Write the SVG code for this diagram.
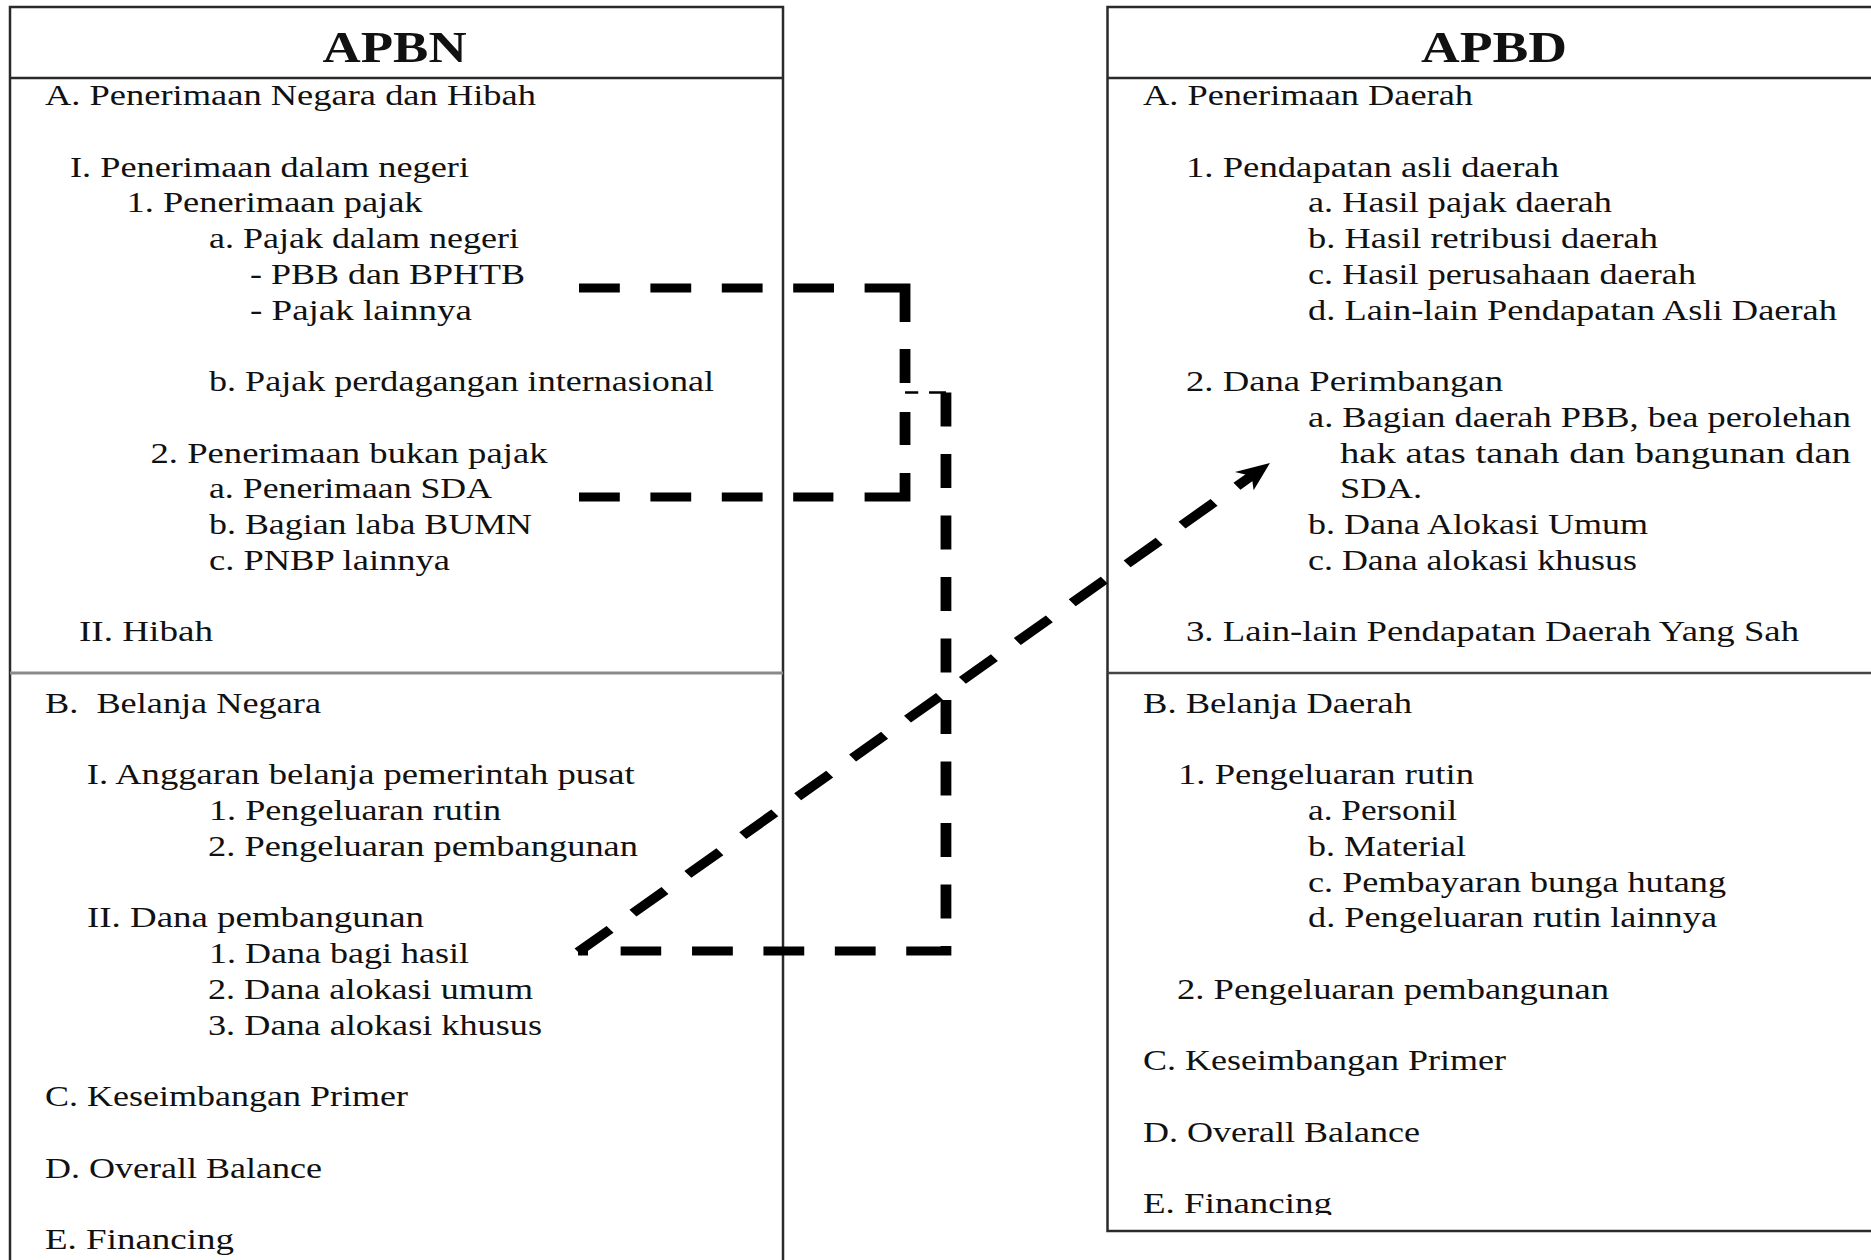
<svg xmlns="http://www.w3.org/2000/svg" width="1871" height="1260" viewBox="0 0 1871 1260">
<style>
.box{fill:#fff;stroke:#2a2a2a;stroke-width:2.5}
.hl{stroke:#2a2a2a;stroke-width:2.5}
.t{font-family:"Liberation Serif","Times New Roman",serif;font-size:29px;fill:#111;white-space:pre}
.h{font-family:"Liberation Serif","Times New Roman",serif;font-size:44px;font-weight:bold;fill:#111;text-anchor:middle}
.c{fill:none;stroke:#000;stroke-width:9}
</style>
<defs>
<clipPath id="clipR"><rect x="1100" y="0" width="780" height="1215"/></clipPath>
</defs>
<rect width="1871" height="1260" fill="#fff"/>
<g id="apbn">
<rect class="box" x="10" y="7" width="773" height="1270"/>
<line class="hl" x1="10" y1="78" x2="783" y2="78"/>
<line x1="10" y1="673" x2="783" y2="673" stroke="#8a8a8a" stroke-width="3"/>
<text class="h" x="394.6" y="62" textLength="144" lengthAdjust="spacingAndGlyphs">APBN</text>
<text class="t" x="45" y="105" textLength="491" lengthAdjust="spacingAndGlyphs">A. Penerimaan Negara dan Hibah</text>
<text class="t" x="70" y="176.5" textLength="399" lengthAdjust="spacingAndGlyphs">I. Penerimaan dalam negeri</text>
<text class="t" x="126.5" y="212.25" textLength="296" lengthAdjust="spacingAndGlyphs">1. Penerimaan pajak</text>
<text class="t" x="209" y="248" textLength="310" lengthAdjust="spacingAndGlyphs">a. Pajak dalam negeri</text>
<text class="t" x="250" y="283.75" textLength="275" lengthAdjust="spacingAndGlyphs">- PBB dan BPHTB</text>
<text class="t" x="250" y="319.5" textLength="222" lengthAdjust="spacingAndGlyphs">- Pajak lainnya</text>
<text class="t" x="209" y="391" textLength="505" lengthAdjust="spacingAndGlyphs">b. Pajak perdagangan internasional</text>
<text class="t" x="150.5" y="462.5" textLength="397" lengthAdjust="spacingAndGlyphs">2. Penerimaan bukan pajak</text>
<text class="t" x="209" y="498.25" textLength="283" lengthAdjust="spacingAndGlyphs">a. Penerimaan SDA</text>
<text class="t" x="209" y="534" textLength="323" lengthAdjust="spacingAndGlyphs">b. Bagian laba BUMN</text>
<text class="t" x="209" y="569.75" textLength="241" lengthAdjust="spacingAndGlyphs">c. PNBP lainnya</text>
<text class="t" x="79" y="641.25" textLength="134" lengthAdjust="spacingAndGlyphs">II. Hibah</text>
<text class="t" x="45" y="712.75" textLength="276" lengthAdjust="spacingAndGlyphs">B.  Belanja Negara</text>
<text class="t" x="86.7" y="784.25" textLength="548" lengthAdjust="spacingAndGlyphs">I. Anggaran belanja pemerintah pusat</text>
<text class="t" x="209" y="820" textLength="292" lengthAdjust="spacingAndGlyphs">1. Pengeluaran rutin</text>
<text class="t" x="208" y="855.75" textLength="430" lengthAdjust="spacingAndGlyphs">2. Pengeluaran pembangunan</text>
<text class="t" x="87" y="927.25" textLength="337" lengthAdjust="spacingAndGlyphs">II. Dana pembangunan</text>
<text class="t" x="209" y="963" textLength="260" lengthAdjust="spacingAndGlyphs">1. Dana bagi hasil</text>
<text class="t" x="208" y="998.75" textLength="325" lengthAdjust="spacingAndGlyphs">2. Dana alokasi umum</text>
<text class="t" x="208" y="1034.5" textLength="334" lengthAdjust="spacingAndGlyphs">3. Dana alokasi khusus</text>
<text class="t" x="45" y="1106" textLength="363" lengthAdjust="spacingAndGlyphs">C. Keseimbangan Primer</text>
<text class="t" x="45" y="1177.5" textLength="277" lengthAdjust="spacingAndGlyphs">D. Overall Balance</text>
<text class="t" x="45" y="1249" textLength="189" lengthAdjust="spacingAndGlyphs">E. Financing</text>
</g>
<g id="apbd">
<rect class="box" x="1107.5" y="7" width="780" height="1224"/>
<line class="hl" x1="1107.5" y1="78" x2="1871" y2="78"/>
<line x1="1107.5" y1="673" x2="1871" y2="673" stroke="#444" stroke-width="2.5"/>
<text class="h" x="1494" y="62" textLength="146" lengthAdjust="spacingAndGlyphs">APBD</text>
<g clip-path="url(#clipR)">
<text class="t" x="1143" y="105" textLength="330" lengthAdjust="spacingAndGlyphs">A. Penerimaan Daerah</text>
<text class="t" x="1186" y="176.5" textLength="373" lengthAdjust="spacingAndGlyphs">1. Pendapatan asli daerah</text>
<text class="t" x="1308" y="212.25" textLength="304" lengthAdjust="spacingAndGlyphs">a. Hasil pajak daerah</text>
<text class="t" x="1308" y="248" textLength="350" lengthAdjust="spacingAndGlyphs">b. Hasil retribusi daerah</text>
<text class="t" x="1308" y="283.75" textLength="388" lengthAdjust="spacingAndGlyphs">c. Hasil perusahaan daerah</text>
<text class="t" x="1308" y="319.5" textLength="529" lengthAdjust="spacingAndGlyphs">d. Lain-lain Pendapatan Asli Daerah</text>
<text class="t" x="1186" y="391" textLength="317" lengthAdjust="spacingAndGlyphs">2. Dana Perimbangan</text>
<text class="t" x="1308" y="426.75" textLength="543" lengthAdjust="spacingAndGlyphs">a. Bagian daerah PBB, bea perolehan</text>
<text class="t" x="1340" y="462.5" textLength="511" lengthAdjust="spacingAndGlyphs">hak atas tanah dan bangunan dan</text>
<text class="t" x="1340" y="498.25" textLength="82" lengthAdjust="spacingAndGlyphs">SDA.</text>
<text class="t" x="1308" y="534" textLength="340" lengthAdjust="spacingAndGlyphs">b. Dana Alokasi Umum</text>
<text class="t" x="1308" y="569.75" textLength="329" lengthAdjust="spacingAndGlyphs">c. Dana alokasi khusus</text>
<text class="t" x="1186" y="641.25" textLength="613" lengthAdjust="spacingAndGlyphs">3. Lain-lain Pendapatan Daerah Yang Sah</text>
<text class="t" x="1143" y="712.75" textLength="269" lengthAdjust="spacingAndGlyphs">B. Belanja Daerah</text>
<text class="t" x="1178" y="784.25" textLength="296" lengthAdjust="spacingAndGlyphs">1. Pengeluaran rutin</text>
<text class="t" x="1308" y="820" textLength="149" lengthAdjust="spacingAndGlyphs">a. Personil</text>
<text class="t" x="1308" y="855.75" textLength="158" lengthAdjust="spacingAndGlyphs">b. Material</text>
<text class="t" x="1308" y="891.5" textLength="418" lengthAdjust="spacingAndGlyphs">c. Pembayaran bunga hutang</text>
<text class="t" x="1308" y="927.25" textLength="409" lengthAdjust="spacingAndGlyphs">d. Pengeluaran rutin lainnya</text>
<text class="t" x="1177" y="998.75" textLength="432" lengthAdjust="spacingAndGlyphs">2. Pengeluaran pembangunan</text>
<text class="t" x="1143" y="1070.25" textLength="363" lengthAdjust="spacingAndGlyphs">C. Keseimbangan Primer</text>
<text class="t" x="1143" y="1141.75" textLength="277" lengthAdjust="spacingAndGlyphs">D. Overall Balance</text>
<text class="t" x="1143" y="1213.25" textLength="189" lengthAdjust="spacingAndGlyphs">E. Financing</text>
</g>
</g>
<g id="connectors" transform="scale(1.2 1)">
<path class="c" d="M482.5,288 H754.2 V497 H482.5" stroke-dasharray="34 25.5 34 25.5 34 25.5 34 25.5 67.7 27 34 29 33 28 57.7 26 33.5 25.5 34 25.5 34 25.5 34 100"/>
<line x1="754.2" y1="392.5" x2="788.3" y2="392.5" stroke="#000" stroke-width="2.5" stroke-dasharray="11 9 20 20"/>
<path class="c" d="M788.3,392.5 V951 H481.7" stroke-dasharray="34 27.5 34 27.5 34 27.5 34 27.5 34 27.5 34 27.5 34 27.5 34 27.5 34 27.5 38.1 25.5 34 25.5 34 25.5 34 25.7 33.8 27.2 8.3 50"/>
<path class="c" d="M481.7,952 L1043,475.9" stroke-dasharray="35 25"/>
<polygon points="1058.3,463 1044.7,490.3 1043,475.9 1029.1,471.9" fill="#000"/>
</g>
</svg>
